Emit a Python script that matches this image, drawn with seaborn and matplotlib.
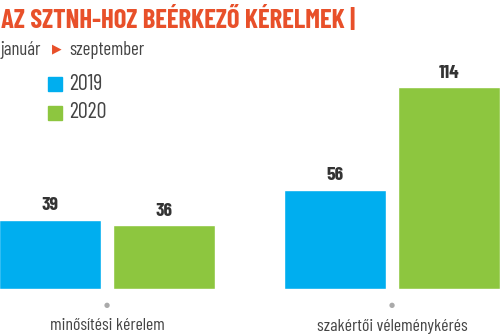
import matplotlib
matplotlib.use("Agg")
import matplotlib.pyplot as plt
import seaborn as sns
import pandas as pd

categories = ["minősítési kérelem", "szakértői véleménykérés"]
years = ["2019", "2020"]
values_2019 = [39, 56]
values_2020 = [36, 114]
title = "AZ SZTNH-HOZ BEÉRKEZŐ KÉRELMEK |"
colors = {"2019": "#00aeef", "2020": "#8dc63f"}

FONT = "Barlow Condensed"

sns.set_theme(style="white")
plt.rcParams["font.family"] = [FONT, "DejaVu Sans"]

df = pd.DataFrame({
    "category": categories * 2,
    "year": [years[0]] * 2 + [years[1]] * 2,
    "value": values_2019 + values_2020,
})

fig = plt.figure(figsize=(5, 3.36), dpi=100)
ax = fig.add_axes([0, 47 / 336, 1, 289 / 336])
sns.barplot(data=df, x="category", y="value", hue="year", palette=colors,
            width=0.8, gap=0.105, ax=ax, legend=False, saturation=1)
ax.set_xlim(-107 / 285, 393 / 285)
ax.set_ylim(0, 289 / 1.77)
ax.axis("off")

for cont in ax.containers:
    for bar in cont:
        h = bar.get_height()
        ax.annotate(f"{h:.0f}", (bar.get_x() + bar.get_width() / 2, h),
                    xytext=(0, 4), textcoords="offset points",
                    ha="center", va="bottom", fontsize=14, fontweight="bold",
                    color="#333333")

for i, cat in enumerate(categories):
    x_fig = (107 + 285 * i) / 500
    fig.text(x_fig, 1 - 305 / 336, "●", ha="center", va="center",
             fontsize=5, color="#aaaaaa", family="DejaVu Sans")
    fig.text(x_fig, 1 - 326 / 336, cat, ha="center", va="center",
             fontsize=12.8, color="#444444")

fig.text(0.002, 1 - 20 / 336, title, ha="left", va="center", fontsize=19.3,
         fontweight="bold", color="#e8502a")
fig.text(0.002, 1 - 50 / 336, "január", ha="left", va="center",
         fontsize=13.5, color="#444444")
fig.text(52 / 500, 1 - 49 / 336, "▶", ha="left", va="center", fontsize=9,
         color="#e8502a", family="DejaVu Sans")
fig.text(69 / 500, 1 - 50 / 336, "szeptember", ha="left", va="center",
         fontsize=13.5, color="#444444")

for j, y in enumerate(years):
    yc = 1 - (84 + 29 * j) / 336
    fig.patches.append(plt.Rectangle((48 / 500, yc - 7 / 336), 14 / 500, 14 / 336,
                                     transform=fig.transFigure, color=colors[y]))
    fig.text(69 / 500, yc, y, ha="left", va="center", fontsize=16,
             color="#444444")

fig.savefig("out.png", dpi=100)
